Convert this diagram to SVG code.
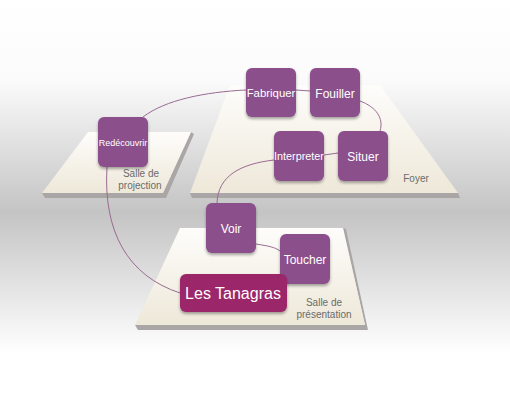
<svg xmlns="http://www.w3.org/2000/svg" width="510" height="401" viewBox="0 0 510 401">
<defs>
<linearGradient id="bg" x1="0" y1="0" x2="0" y2="1">
<stop offset="0" stop-color="#ffffff"/>
<stop offset="0.2" stop-color="#fbfbfb"/>
<stop offset="0.53" stop-color="#c4c4c4"/>
<stop offset="0.72" stop-color="#e4e4e4"/>
<stop offset="0.88" stop-color="#ffffff"/>
<stop offset="1" stop-color="#ffffff"/>
</linearGradient>
<linearGradient id="plat" x1="0" y1="0" x2="0" y2="1">
<stop offset="0" stop-color="#fefdfb"/>
<stop offset="1" stop-color="#eee8d9"/>
</linearGradient>
<filter id="sh" x="-20%" y="-20%" width="140%" height="150%">
<feGaussianBlur in="SourceAlpha" stdDeviation="1.5"/>
<feOffset dx="0" dy="2" result="b"/>
<feComponentTransfer><feFuncA type="linear" slope="0.35"/></feComponentTransfer>
<feMerge><feMergeNode/><feMergeNode in="SourceGraphic"/></feMerge>
</filter>
</defs>
<style>
.node{fill:#8b4f8c;filter:url(#sh)}
.main{fill:#9b2569;filter:url(#sh)}
.t{fill:#ffffff;font-family:"Liberation Sans",Arial,sans-serif;text-anchor:middle}
.lbl{fill:#6b6b6b;font-family:"Liberation Sans",Arial,sans-serif;font-size:10px;text-anchor:middle}
.side{fill:#aaa6a6}
.con{fill:none;stroke:#9a6a92;stroke-width:1}
</style>
<rect x="0" y="0" width="510" height="401" fill="url(#bg)"/>
<g id="platforms">
<g id="salle-projection">
<polygon class="side" points="191,132 194,134 166,198 45,198 42,193 163,193"/>
<polygon fill="url(#plat)" points="88,132 191,132 163,193 42,193"/>
</g>
<g id="foyer">
<polygon class="side" points="458,193 460,198 192,198 190,193"/>
<polygon fill="url(#plat)" points="230,85 380,85 458,193 190,193"/>
</g>
<g id="salle-presentation">
<polygon class="side" points="343,228 346,229 368,330 138,330 135,325 365,325"/>
<polygon fill="url(#plat)" points="180,228 343,228 365,325 135,325"/>
</g>
</g>
<g id="labels">
<text class="lbl" x="141" y="177">Salle de</text>
<text class="lbl" x="140" y="188.5">projection</text>
<text class="lbl" x="416" y="182">Foyer</text>
<text class="lbl" x="324" y="306">Salle de</text>
<text class="lbl" x="324" y="317.5">présentation</text>
</g>
<g id="connectors">
<path class="con" d="M143,117 C165,100 205,92 246,90"/>
<path class="con" d="M296,90 L310,91"/>
<path class="con" d="M360,101 C376,107 384,118 380,131"/>
<path class="con" d="M338,153 L324,155"/>
<path class="con" d="M274,160 C240,164 218,176 217,203"/>
<path class="con" d="M256,244 C268,246 275,247 280,251"/>
<path class="con" d="M107,167 C103,232 128,276 180,293"/>
</g>
<g id="fabriquer"><rect class="node" x="246" y="68" width="50" height="49" rx="6"/><text class="t" x="271" y="97" font-size="11.4">Fabriquer</text></g>
<g id="fouiller"><rect class="node" x="310" y="68" width="50" height="49" rx="6"/><text class="t" x="335" y="98" font-size="12">Fouiller</text></g>
<g id="redecouvrir"><rect class="node" x="98" y="117" width="50" height="50" rx="6"/><text class="t" x="123" y="146" font-size="9">Redécouvrir</text></g>
<g id="interpreter"><rect class="node" x="274" y="131" width="50" height="50" rx="6"/><text class="t" x="299" y="160" font-size="10.8">Interpreter</text></g>
<g id="situer"><rect class="node" x="338" y="131" width="50" height="50" rx="6"/><text class="t" x="363" y="161" font-size="12">Situer</text></g>
<g id="voir"><rect class="node" x="206" y="203" width="50" height="50" rx="6"/><text class="t" x="231" y="233" font-size="12">Voir</text></g>
<g id="toucher"><rect class="node" x="280" y="234" width="50" height="50" rx="6"/><text class="t" x="305" y="264" font-size="12">Toucher</text></g>
<g id="les-tanagras"><rect class="main" x="180" y="274" width="107" height="38" rx="6"/><text class="t" x="233" y="299" font-size="16">Les Tanagras</text></g>
</svg>
